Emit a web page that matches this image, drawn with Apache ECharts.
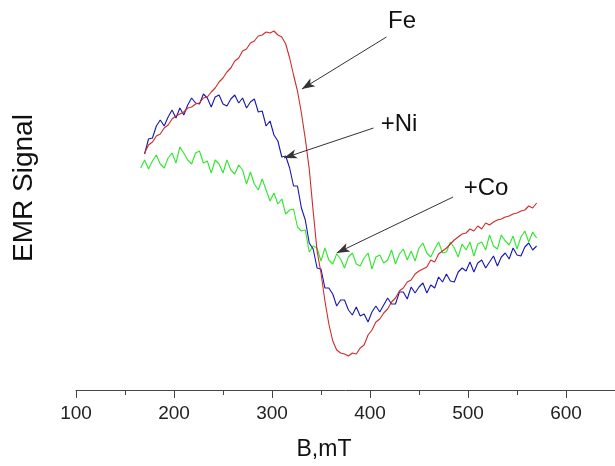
<!DOCTYPE html>
<html>
<head>
<meta charset="utf-8">
<script src="https://cdn.jsdelivr.net/npm/echarts/dist/echarts.min.js"></script>
<style>
html, body { margin: 0; padding: 0; background: #fff; }
#emr_chart { width: 615px; height: 466px; }
</style>
</head>
<body>
<div id="emr_chart"></div>
<script>
// magnetic field, mT (shared by the three spectra)
var field = [
    166,170,174,178,182,186,190,194,198,202,
    206,210,214,218,222,226,230,234,238,242,
    246,250,254,258,262,266,270,274,278,282,
    286,290,294,298,302,306,310,314,318,322,
    326,330,334,338,342,346,350,354,358,362,
    366,370,374,378,382,386,390,394,398,402,
    406,410,414,418,422,426,430,434,438,442,
    446,450,454,458,462,466,470,474,478,482,
    486,490,494,498,502,506,510,514,518,522,
    526,530,534,538,542,546,550,554,558,562,
    566,570
];
// EMR signal, arbitrary units
var fe = [
    null,237,245,248,254,256,262,265,271,274,
    276,278,282,283,286,287,292,293,298,302,
    308,312,318,322,329,332,339,341,347,349,
    354,355,358,357,359,355,353,346,332,315,
    299,277,251,221,179,139,117,89,66,49,
    40,37,36,34,37,36,42,45,55,60,
    68,71,77,81,88,92,99,102,108,110,
    116,119,121,123,130,128,136,139,142,146,
    150,153,156,157,161,159,164,161,167,165,
    168,170,171,173,174,176,177,179,180,184,
    182,187
];
var ni = [
    null,236,251,252,264,270,264,273,280,272,
    282,275,285,292,287,286,296,292,283,293,
    295,286,284,291,295,287,292,282,288,291,
    278,279,264,269,255,249,233,234,222,204,
    204,182,170,147,141,122,121,102,102,96,
    84,90,90,80,75,83,74,76,68,78,
    84,78,85,92,86,86,98,98,91,103,
    97,103,107,97,105,102,113,108,116,109,
    108,118,122,119,128,118,127,130,122,128,
    134,124,133,137,131,142,135,134,143,147,
    140,144
];
var co = [
    222,230,221,229,235,226,222,232,237,227,
    243,237,230,226,237,239,227,229,217,230,
    226,217,230,220,216,225,220,206,218,206,
    200,211,200,189,197,186,191,176,180,181,
    163,159,160,138,144,142,129,142,130,126,
    136,131,122,133,137,126,124,132,137,121,
    133,135,127,130,140,126,136,141,130,139,
    129,142,147,137,133,141,148,137,138,148,
    142,133,146,140,148,134,146,148,140,155,
    144,141,155,149,145,154,141,153,159,148,
    158,152
];

// callout arrows: [field, signal] of tail and head
var arrows = [
    [[416.8, 353], [330.5, 301]],
    [[403.6, 262], [312.2, 232]],
    [[484.8, 193], [366.0, 137]]
];

function pairs(ys) {
    return field.map(function (b, i) { return [b, ys[i]]; });
}

var font = '"Liberation Sans", Arial, sans-serif';

function label(txt, x, y, size, rot) {
    return {
        type: 'text', x: x, y: y, rotation: rot || 0, silent: true,
        style: {
            text: txt, fill: '#111', font: size + 'px ' + font,
            align: 'center', verticalAlign: 'middle'
        }
    };
}

var emr_option = {
    animation: false,
    backgroundColor: '#fff',
    grid: { left: 76, right: -3, top: 1, bottom: 76 },
    xAxis: {
        type: 'value',
        min: 100,
        max: 650,
        interval: 100,
        axisLine: { lineStyle: { color: '#444', width: 1 } },
        axisTick: { length: 8, lineStyle: { color: '#444' } },
        minorTick: { show: true, splitNumber: 2, length: 5, lineStyle: { color: '#444' } },
        splitLine: { show: false },
        axisLabel: {
            fontSize: 19, color: '#222', margin: 14, fontFamily: font,
            showMaxLabel: false
        }
    },
    yAxis: { type: 'value', min: 0, max: 389, show: false },
    graphic: [
        label('B,mT', 324, 450, 23),
        label('EMR Signal', 24, 188, 28, Math.PI / 2),
        label('Fe', 402, 21, 24),
        label('+Ni', 399, 124, 24),
        label('+Co', 486, 188, 24)
    ],
    series: [
        {
            name: '+Co', type: 'line', data: pairs(co), symbol: 'none',
            lineStyle: { color: '#2ee62e', width: 1.1 }
        },
        {
            name: '+Ni', type: 'line', data: pairs(ni), symbol: 'none',
            lineStyle: { color: '#1717b0', width: 1.1 }
        },
        {
            name: 'Fe', type: 'line', data: pairs(fe), symbol: 'none',
            lineStyle: { color: '#d02a2a', width: 1.1 },
            markLine: {
                silent: true,
                symbol: ['none', 'arrow'],
                symbolSize: [7, 13],
                label: { show: false },
                lineStyle: { color: '#333', width: 1, type: 'solid' },
                data: arrows.map(function (a) {
                    return [{ coord: a[0] }, { coord: a[1] }];
                })
            }
        }
    ]
};

var emr_chart = echarts.init(document.getElementById('emr_chart'));
emr_chart.setOption(emr_option);
</script>
</body>
</html>
